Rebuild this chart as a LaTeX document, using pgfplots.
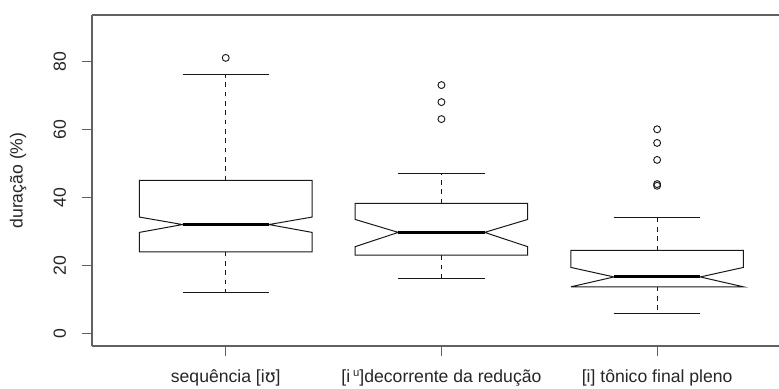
\documentclass[border=0pt]{standalone}
\usepackage{pgfplots}
\pgfplotsset{compat=1.18}
\usepackage{fontspec}
\setmainfont{Liberation Sans}
\newfontfamily\ipa{DejaVu Sans}
\definecolor{framegray}{gray}{0.38}
\definecolor{textgray}{gray}{0.15}
\definecolor{boxline}{gray}{0.1}
\newcommand\labelfont{\fontsize{13.2}{15}\selectfont}
\newcommand\supu{\,\raisebox{5pt}{\fontsize{8.5}{9}\selectfont u}}

\begin{document}
\begin{tikzpicture}
\begin{axis}[
  scale only axis, width=515.25pt, height=248.25pt,
  xmin=0.38, xmax=3.565, ymin=-3.7, ymax=93.6,
  axis x line*=box, axis y line*=left,
  axis line style={framegray, line width=0.8pt},
  tick style={framegray, line width=0.8pt},
  tick align=outside, major tick length=7.5pt,
  xtick pos=bottom, ytick pos=left,
  xtick={1,2,3},
  xticklabels={sequência [i{\ipa ʊ}],
               {[i\supu]decorrente da redução},
               {[i] tônico final pleno}},
  ytick={0,20,40,60,80},
  tick label style={font=\labelfont, text=textgray},
  /pgf/number format/assume math mode=true,
  yticklabel style={rotate=90, anchor=south, yshift=8.5pt},
  xticklabel style={yshift=-7pt},
  clip=false,
]
% --- notched boxes: Q1, lower notch, median, upper notch, Q3
\addplot[boxline, line width=0.75pt] coordinates {
  (0.6,24) (0.6,29.7) (0.8,32) (0.6,34.2) (0.6,45) (1.4,45)
  (1.4,34.2) (1.2,32) (1.4,29.7) (1.4,24) (0.6,24) (0.6,29.7)};
\addplot[boxline, line width=0.75pt] coordinates {
  (1.6,23) (1.6,25.5) (1.8,29.7) (1.6,33.5) (1.6,38.2) (2.4,38.2)
  (2.4,33.5) (2.2,29.7) (2.4,25.5) (2.4,23) (1.6,23) (1.6,25.5)};
\addplot[boxline, line width=0.75pt] coordinates {
  (2.6,13.7) (2.6,13.7) (2.8,16.6) (2.6,19.4) (2.6,24.4) (3.4,24.4)
  (3.4,19.4) (3.2,16.6) (3.4,13.7) (3.4,13.7) (2.6,13.7)};
% --- medians
\addplot[black, line width=2.3pt] coordinates {(0.8,32) (1.2,32)};
\addplot[black, line width=2.3pt] coordinates {(1.8,29.7) (2.2,29.7)};
\addplot[black, line width=2.3pt] coordinates {(2.8,16.6) (3.2,16.6)};
% --- whiskers
\addplot[boxline, line width=0.75pt, dash pattern=on 3.5pt off 3.5pt] coordinates {(1,45) (1,76)};
\addplot[boxline, line width=0.75pt, dash pattern=on 3.5pt off 3.5pt] coordinates {(1,24) (1,12)};
\addplot[boxline, line width=0.75pt, dash pattern=on 3.5pt off 3.5pt] coordinates {(2,38.2) (2,47)};
\addplot[boxline, line width=0.75pt, dash pattern=on 3.5pt off 3.5pt] coordinates {(2,23) (2,16)};
\addplot[boxline, line width=0.75pt, dash pattern=on 3.5pt off 3.5pt] coordinates {(3,24.4) (3,34)};
\addplot[boxline, line width=0.75pt, dash pattern=on 3.5pt off 3.5pt] coordinates {(3,13.7) (3,6)};
% --- whisker caps
\addplot[boxline, line width=0.75pt] coordinates {(0.8,76) (1.2,76)};
\addplot[boxline, line width=0.75pt] coordinates {(0.8,12) (1.2,12)};
\addplot[boxline, line width=0.75pt] coordinates {(1.8,47) (2.2,47)};
\addplot[boxline, line width=0.75pt] coordinates {(1.8,16) (2.2,16)};
\addplot[boxline, line width=0.75pt] coordinates {(2.8,34) (3.2,34)};
\addplot[boxline, line width=0.75pt] coordinates {(2.8,6) (3.2,6)};
% --- outliers
\addplot[only marks, mark=o, mark size=2.6pt, boxline, mark options={line width=0.7pt}]
  coordinates {(1,81) (2,63) (2,68) (2,73) (3,43.4) (3,43.9) (3,51) (3,56) (3,60)};
% y axis title
\node[rotate=90, anchor=center, font=\labelfont, text=textgray]
  at ([xshift=-55.5pt]rel axis cs:0,0.5) {duração (\%)};
\coordinate (fsw) at (rel axis cs:0,0);
\coordinate (fne) at (rel axis cs:1,1);
\end{axis}
\pgfresetboundingbox
\useasboundingbox ([shift={(-69pt,-31.5pt)}]fsw) rectangle ([shift={(0pt,11.25pt)}]fne);
\end{tikzpicture}
\end{document}
